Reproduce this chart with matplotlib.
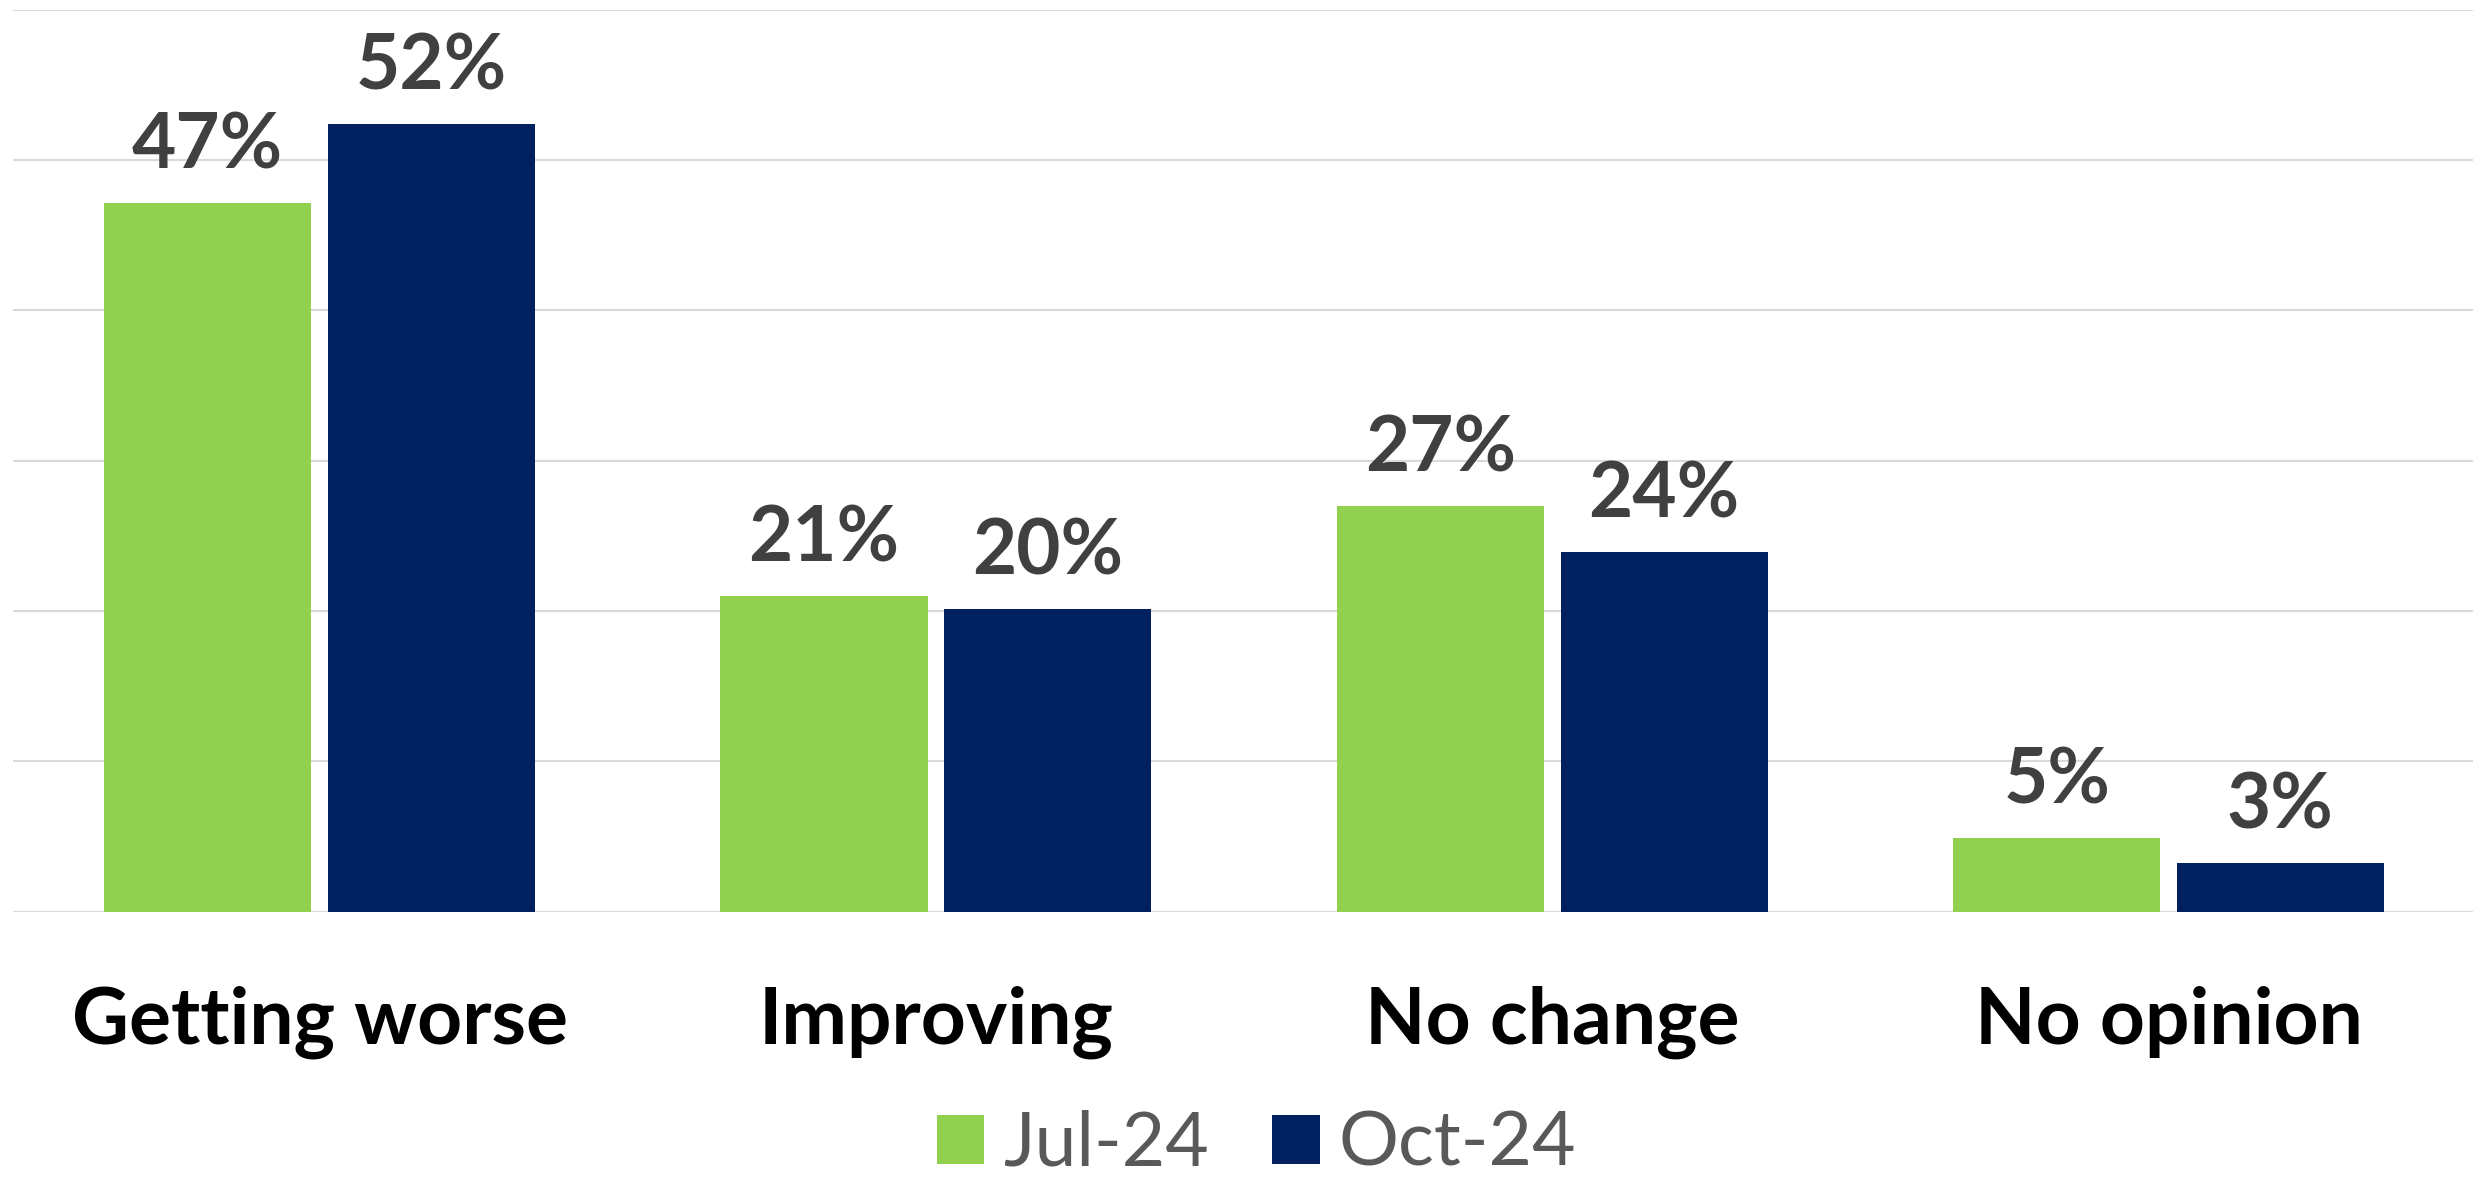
import matplotlib
matplotlib.use("Agg")
import matplotlib.pyplot as plt
import numpy as np

categories = ["Getting worse", "Improving", "No change", "No opinion"]
series_names = ["Jul-24", "Oct-24"]
jul_values = [47.1, 21.0, 26.95, 4.9]
oct_values = [52.4, 20.1, 23.9, 3.25]
y_ticks = [0, 10, 20, 30, 40, 50, 60]

colors = ["#92D050", "#002060"]

plt.rcParams['font.family'] = ['Lato', 'DejaVu Sans']

fig = plt.figure(figsize=(24.73, 11.78), dpi=100)
ax = fig.add_axes([12.6 / 2473, 266.4 / 1178, 1 - 12.6 / 2473, (911.6 - 9.5) / 1178])

x = np.arange(len(categories))
width = 0.336
offset = 0.363 / 2

containers = []
for i, (vals, name) in enumerate(zip([jul_values, oct_values], series_names)):
    bc = ax.bar(x + (i * 2 - 1) * offset, vals, width, color=colors[i], label=name, zorder=3)
    containers.append(bc)

for bc in containers:
    for rect in bc:
        h = rect.get_height()
        ax.annotate(f"{round(h)}%", (rect.get_x() + rect.get_width() / 2, h),
                    xytext=(0, 25), textcoords="offset points",
                    ha="center", va="baseline", fontsize=55, fontweight="bold",
                    color="#404040", zorder=4)

ax.set_xlim(-0.498, 3.494)
ax.set_ylim(0, 60)
ax.set_yticks(y_ticks)
ax.yaxis.grid(True, color="#D9D9D9", linewidth=1.5, zorder=0)
ax.tick_params(axis="y", left=False, labelleft=False)
ax.tick_params(axis="x", bottom=False)
ax.set_xticks(x)
ax.set_xticklabels(categories, fontsize=56.5, fontweight="bold", color="black")
ax.tick_params(axis="x", pad=50)
for s in ax.spines.values():
    s.set_visible(False)

leg = fig.legend(loc="lower center", bbox_to_anchor=(0.508, -0.058), ncol=2, frameon=False,
                 fontsize=54, handlelength=0.63, handleheight=0.63, handletextpad=0.25,
                 columnspacing=0.85, labelcolor="#595959")

fig.savefig("out.png", dpi=100)
